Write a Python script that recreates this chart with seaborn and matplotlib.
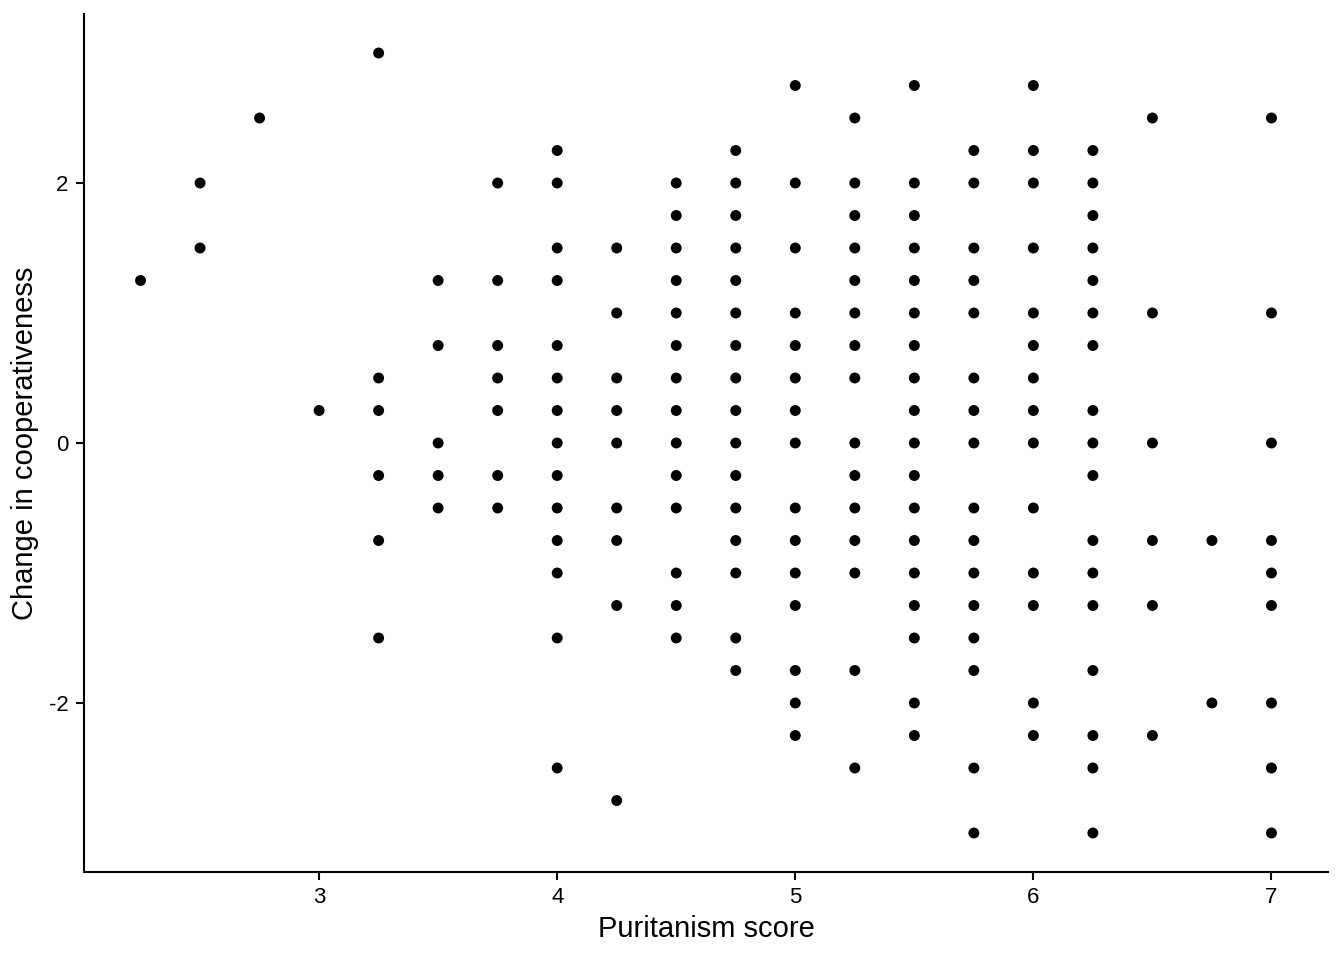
import pandas as pd
import matplotlib
matplotlib.use("Agg")
import matplotlib.pyplot as plt
import seaborn as sns

# Puritanism score columns and the change values seen at each one
x_levels = [2.25, 2.5, 2.75, 3.0, 3.25, 3.5, 3.75, 4.0, 4.25, 4.5, 4.75,
            5.0, 5.25, 5.5, 5.75, 6.0, 6.25, 6.5, 6.75, 7.0]
y_2_25 = [1.25]
y_2_5 = [2, 1.5]
y_2_75 = [2.5]
y_3_0 = [0.25]
y_3_25 = [3, 0.5, 0.25, -0.25, -0.75, -1.5]
y_3_5 = [1.25, 0.75, 0, -0.25, -0.5]
y_3_75 = [2, 1.25, 0.75, 0.5, 0.25, -0.25, -0.5]
y_4_0 = [2.25, 2, 1.5, 1.25, 0.75, 0.5, 0.25, 0, -0.25, -0.5, -0.75, -1,
         -1.5, -2.5]
y_4_25 = [1.5, 1, 0.5, 0.25, 0, -0.5, -0.75, -1.25, -2.75]
y_4_5 = [2, 1.75, 1.5, 1.25, 1, 0.75, 0.5, 0.25, 0, -0.25, -0.5, -1,
         -1.25, -1.5]
y_4_75 = [2.25, 2, 1.75, 1.5, 1.25, 1, 0.75, 0.5, 0.25, 0, -0.25, -0.5,
          -0.75, -1, -1.5, -1.75]
y_5_0 = [2.75, 2, 1.5, 1, 0.75, 0.5, 0.25, 0, -0.5, -0.75, -1, -1.25,
         -1.75, -2, -2.25]
y_5_25 = [2.5, 2, 1.75, 1.5, 1.25, 1, 0.75, 0.5, 0, -0.25, -0.5, -0.75,
          -1, -1.75, -2.5]
y_5_5 = [2.75, 2, 1.75, 1.5, 1.25, 1, 0.75, 0.5, 0.25, 0, -0.25, -0.5,
         -0.75, -1, -1.25, -1.5, -2, -2.25]
y_5_75 = [2.25, 2, 1.5, 1.25, 1, 0.5, 0.25, 0, -0.5, -0.75, -1, -1.25,
          -1.5, -1.75, -2.5, -3]
y_6_0 = [2.75, 2.25, 2, 1.5, 1, 0.75, 0.5, 0.25, 0, -0.5, -1, -1.25, -2,
         -2.25]
y_6_25 = [2.25, 2, 1.75, 1.5, 1.25, 1, 0.75, 0.25, 0, -0.25, -0.75, -1,
          -1.25, -1.75, -2.25, -2.5, -3]
y_6_5 = [2.5, 1, 0, -0.75, -1.25, -2.25]
y_6_75 = [-0.75, -2]
y_7_0 = [2.5, 1, 0, -0.75, -1, -1.25, -2, -2.5, -3]

columns = [y_2_25, y_2_5, y_2_75, y_3_0, y_3_25, y_3_5, y_3_75, y_4_0,
           y_4_25, y_4_5, y_4_75, y_5_0, y_5_25, y_5_5, y_5_75, y_6_0,
           y_6_25, y_6_5, y_6_75, y_7_0]

rows = []
for xv, ys in zip(x_levels, columns):
    for yv in ys:
        rows.append({"Puritanism score": xv, "Change in cooperativeness": yv})
df = pd.DataFrame(rows)

sns.set_style("ticks")
plt.rcParams["font.family"] = ["Liberation Sans", "DejaVu Sans"]
plt.rcParams["text.color"] = "black"
plt.rcParams["axes.labelcolor"] = "black"

fig = plt.figure(figsize=(13.44, 9.6), dpi=100)
ax = fig.add_axes([84 / 1344, 1 - 872 / 960, (1328 - 84) / 1344, (872 - 14) / 960])

sns.scatterplot(data=df, x="Puritanism score", y="Change in cooperativeness",
                color="black", s=62, edgecolor="none", ax=ax)

ax.set_xlim(2.0125, 7.2375)
ax.set_ylim(-3.3, 3.3)
ax.set_xticks([3, 4, 5, 6, 7])
ax.set_yticks([-2, 0, 2])
ax.set_xticklabels(["3", "4", "5", "6", "7"])
ax.set_yticklabels(["-2", "0", "2"])

sns.despine(ax=ax)
for side in ["left", "bottom"]:
    ax.spines[side].set_linewidth(1.5)
    ax.spines[side].set_color("black")
ax.tick_params(axis="both", direction="out", length=6, width=1.5,
               colors="black", labelsize=16, pad=5)
ax.set_xlabel("Puritanism score", fontsize=21, labelpad=5)
ax.set_ylabel("Change in cooperativeness", fontsize=21, labelpad=7)

fig.savefig("out.png", dpi=100)
